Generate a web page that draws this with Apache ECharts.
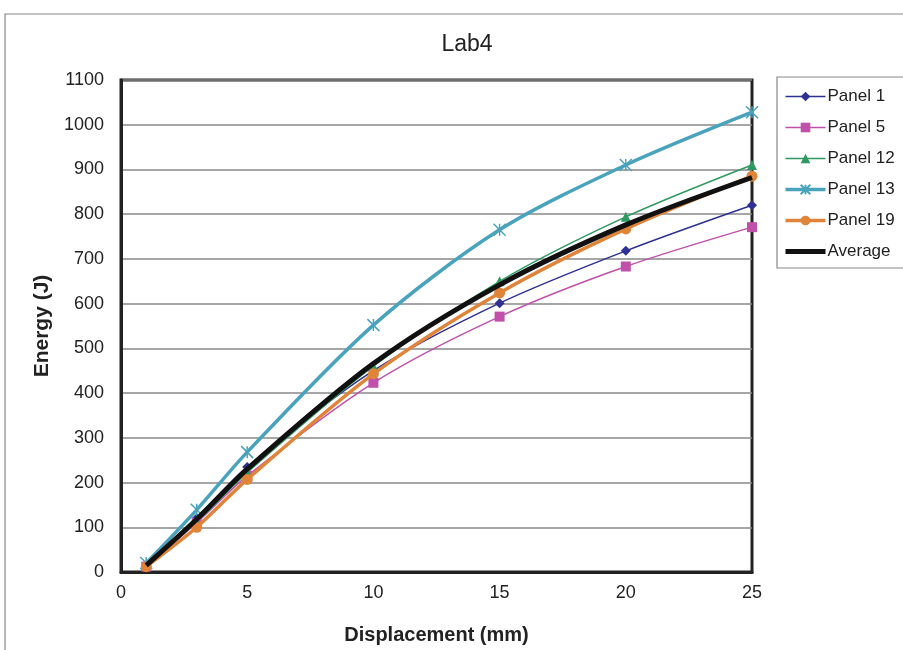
<!DOCTYPE html>
<html><head><meta charset="utf-8">
<script src="https://cdn.jsdelivr.net/npm/echarts@6/dist/echarts.min.js"></script>
<style>html,body{margin:0;padding:0;background:#fff}#c{width:903px;height:650px}</style>
</head><body><div id="c"></div>
<script>
var xValues = [1, 3, 5, 10, 15, 20, 25];
var panel1  = [15, 120, 235, 450, 601, 718, 820];
var panel5  = [12, 110, 215, 423, 571, 683, 771];
var panel12 = [15, 112, 222, 460, 650, 794, 910];
var panel13 = [20, 139, 268, 552, 765, 910, 1028];
var panel19 = [12, 100, 207, 443, 624, 767, 885];
var average = [15, 118, 230, 466, 642, 776, 882];
var seriesNames = ['Panel 1', 'Panel 5', 'Panel 12', 'Panel 13', 'Panel 19', 'Average'];

function pairs(arr){ return xValues.map(function(x,i){ return [x, arr[i]]; }); }
var FONT = '"Liberation Sans", Arial, sans-serif';
var asterisk = 'path://M0,0L10,10M10,0L0,10M5,0L5,10';
var legendWidths = [1.5, 1.5, 1.5, 3.5, 3.5, 5];

var chart = echarts.init(document.getElementById('c'));
chart.setOption({
  backgroundColor: '#fff',
  animation: false,
  title: { text: 'Lab4', left: 462, top: 28, textAlign: 'center',
    textStyle: { fontFamily: FONT, fontSize: 23, fontWeight: 'normal', color: '#222' } },
  graphic: [
    { type: 'rect', shape: { x: 5, y: 14, width: 960, height: 700 }, style: { fill: 'none', stroke: '#888', lineWidth: 1.2 }, z: 0 },
    { type: 'rect', shape: { x: 777, y: 77, width: 140, height: 191 }, style: { fill: '#fff', stroke: '#888', lineWidth: 1.2 }, z: 1 }
  ],
  legend: {
    orient: 'vertical', left: 778, top: 83, itemWidth: 40, itemHeight: 12, itemGap: 14,
    data: seriesNames.map(function(n, i){
      var d = { name: n, lineStyle: { width: legendWidths[i] } };
      if (n === 'Average') d.itemStyle = { opacity: 0 };
      return d;
    }),
    textStyle: { fontFamily: FONT, fontSize: 17, color: '#222', padding: [0,0,0,-3] },
    z: 5
  },
  grid: { left: 121, right: 151, top: 80, bottom: 78, show: true, borderColor: '#222', borderWidth: 3, backgroundColor: 'transparent' },
  xAxis: {
    type: 'value', min: 0, max: 25, interval: 5,
    name: 'Displacement (mm)', nameLocation: 'middle', nameGap: 53,
    nameTextStyle: { fontFamily: FONT, fontSize: 20, fontWeight: 'bold', color: '#222' },
    axisLine: { show: true, lineStyle: { color: '#222', width: 3 } },
    axisTick: { show: false },
    splitLine: { show: false },
    axisLabel: { fontFamily: FONT, fontSize: 18, color: '#222', margin: 12 }
  },
  yAxis: {
    type: 'value', min: 0, max: 1100, interval: 100,
    name: 'Energy (J)', nameLocation: 'middle', nameGap: 60,
    nameTextStyle: { fontFamily: FONT, fontSize: 21, fontWeight: 'bold', color: '#222' },
    axisLine: { show: true, lineStyle: { color: '#222', width: 3 } },
    axisTick: { show: false },
    splitLine: { show: true, lineStyle: { color: '#888', width: 1.5 } },
    axisLabel: { fontFamily: FONT, fontSize: 18, color: '#222', margin: 17, formatter: function(v){ return String(v); } }
  },
  series: [
    { name: 'Panel 1', type: 'line', smooth: 0.3, data: pairs(panel1), symbol: 'diamond', symbolSize: 10,
      lineStyle: { color: '#2E3192', width: 1.5 }, itemStyle: { color: '#2E3192' }, z: 3 },
    { name: 'Panel 5', type: 'line', smooth: 0.3, data: pairs(panel5), symbol: 'rect', symbolSize: 10,
      lineStyle: { color: '#C050AA', width: 1.5 }, itemStyle: { color: '#C050AA' }, z: 3 },
    { name: 'Panel 12', type: 'line', smooth: 0.3, data: pairs(panel12), symbol: 'triangle', symbolSize: 10,
      lineStyle: { color: '#2E9960', width: 1.5 }, itemStyle: { color: '#2E9960' }, z: 3 },
    { name: 'Panel 13', type: 'line', smooth: 0.3, data: pairs(panel13), symbol: asterisk, symbolSize: 12,
      lineStyle: { color: '#4AA3BD', width: 3.5 }, itemStyle: { color: '#4AA3BD', borderColor: '#4AA3BD', borderWidth: 1.5 }, z: 3 },
    { name: 'Panel 19', type: 'line', smooth: 0.3, data: pairs(panel19), symbol: 'circle', symbolSize: 11,
      lineStyle: { color: '#E0843A', width: 3.5 }, itemStyle: { color: '#E0843A' }, z: 4 },
    { name: 'Average', type: 'line', smooth: 0.3, data: pairs(average), symbol: 'none',
      lineStyle: { color: '#111', width: 5 }, itemStyle: { color: '#111' }, z: 5 }
  ]
});
</script></body></html>
